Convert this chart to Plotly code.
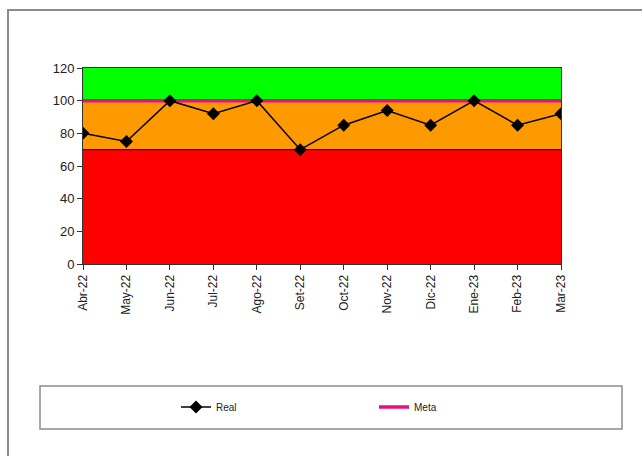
import plotly.graph_objects as go

months = ["Abr-22", "May-22", "Jun-22", "Jul-22", "Ago-22", "Set-22",
          "Oct-22", "Nov-22", "Dic-22", "Ene-23", "Feb-23", "Mar-23"]
real = [80, 75, 100, 92, 100, 70, 85, 94, 85, 100, 85, 92]
meta = [100] * 12
band_red = [70] * 12
band_orange = [100] * 12
band_green = [120] * 12

W, H = 642, 456
L, R, T, B = 83, 561, 68, 264


def px(x):
    return (x - L) / (R - L)


def py(y):
    return (B - y) / (B - T)


fig = go.Figure()
fig.add_trace(go.Scatter(x=months, y=band_red, mode="lines", fill="tozeroy",
                         fillcolor="#FF0000", line=dict(color="#000000", width=1),
                         showlegend=False, hoverinfo="skip"))
fig.add_trace(go.Scatter(x=months, y=band_orange, mode="lines", fill="tonexty",
                         fillcolor="#FF9900", line=dict(color="#FF9900", width=0),
                         showlegend=False, hoverinfo="skip"))
fig.add_trace(go.Scatter(x=months, y=band_green, mode="lines", fill="tonexty",
                         fillcolor="#00FF00", line=dict(color="#00FF00", width=0),
                         showlegend=False, hoverinfo="skip"))
fig.add_trace(go.Scatter(x=months, y=meta, mode="lines", name="Meta",
                         line=dict(color="#E6117F", width=3.5), legend="legend2"))
fig.add_trace(go.Scatter(x=months, y=real, mode="lines+markers", name="Real",
                         line=dict(color="#000000", width=1.5),
                         marker=dict(symbol="diamond", size=10, color="#000000"),
                         legend="legend"))

shapes = [
    # outer chart border
    dict(type="rect", xref="paper", yref="paper",
         x0=px(8), x1=px(660), y0=py(470), y1=py(10),
         line=dict(color="#8C8C8C", width=2), fillcolor="rgba(0,0,0,0)", layer="below"),
    # legend box
    dict(type="rect", xref="paper", yref="paper",
         x0=px(40), x1=px(622), y0=py(429), y1=py(386),
         line=dict(color="#8C8C8C", width=1.5), fillcolor="rgba(0,0,0,0)"),
]

leg_common = dict(orientation="h", xanchor="left", yanchor="middle",
                  font=dict(size=10, color="#222222"), bgcolor="rgba(0,0,0,0)")

fig.update_layout(
    width=W, height=H,
    margin=dict(l=L, r=W - R, t=T, b=H - B, pad=0),
    paper_bgcolor="white", plot_bgcolor="white",
    font=dict(family="Liberation Sans, Arial, sans-serif", color="#222222", size=12),
    showlegend=True,
    legend=dict(x=px(176), y=py(407), **leg_common),
    legend2=dict(x=px(374), y=py(407), **leg_common),
    shapes=shapes,
    xaxis=dict(type="category", range=[0, 11], showgrid=False, zeroline=False,
               showline=True, linecolor="#333333", linewidth=1, mirror=True,
               ticks="outside", ticklen=5, tickcolor="#333333", tickangle=-90,
               tickfont=dict(size=12)),
    yaxis=dict(range=[0, 120], dtick=20, showgrid=False, zeroline=False,
               showline=True, linecolor="#333333", linewidth=1, mirror=True,
               ticks="outside", ticklen=5, tickcolor="#333333",
               tickfont=dict(size=13)),
)

fig.write_html("out.html")
